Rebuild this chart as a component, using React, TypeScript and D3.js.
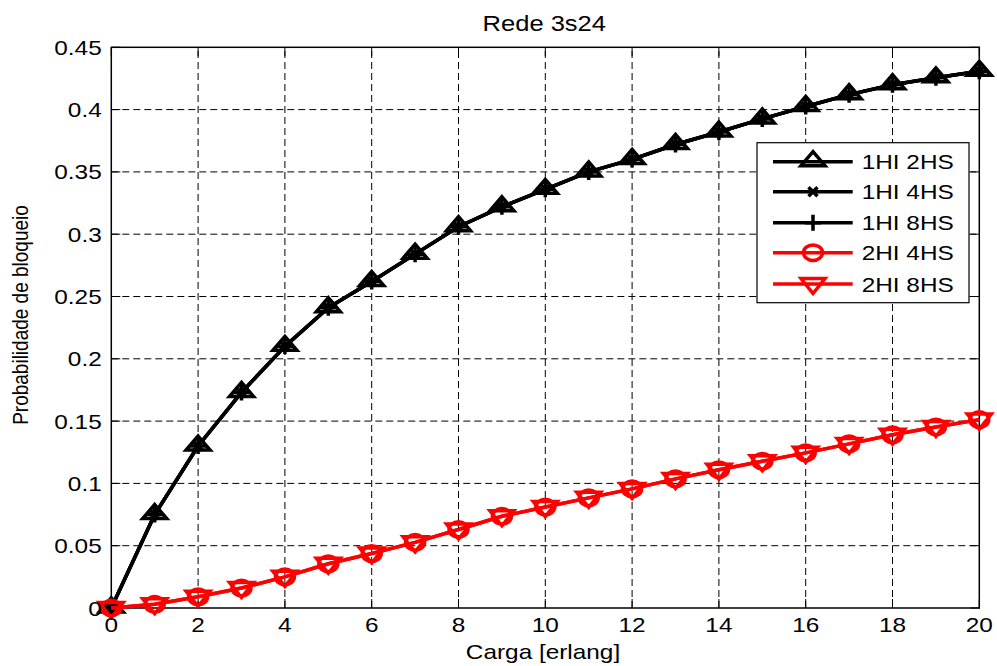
import React from "react";
import * as d3 from "d3";

const loads = [0, 1, 2, 3, 4, 5, 6, 7, 8, 9, 10, 11, 12, 13, 14, 15, 16, 17, 18, 19, 20];
const s1HI2HS = [0, 0.075, 0.130, 0.173, 0.210, 0.241, 0.262, 0.284, 0.306, 0.322, 0.336, 0.350, 0.360, 0.372, 0.382, 0.3925, 0.4025, 0.412, 0.420, 0.4255, 0.4307];
const s1HI4HS = [0, 0.075, 0.130, 0.173, 0.210, 0.241, 0.262, 0.284, 0.306, 0.322, 0.336, 0.350, 0.360, 0.372, 0.382, 0.3925, 0.4025, 0.412, 0.420, 0.4255, 0.4307];
const s1HI8HS = [0, 0.075, 0.130, 0.173, 0.210, 0.241, 0.262, 0.284, 0.306, 0.322, 0.336, 0.350, 0.360, 0.372, 0.382, 0.3925, 0.4025, 0.412, 0.420, 0.4255, 0.4307];
const s2HI4HS = [0, 0.003, 0.009, 0.016, 0.025, 0.0355, 0.0437, 0.0527, 0.063, 0.0736, 0.081, 0.0884, 0.0956, 0.1036, 0.111, 0.1178, 0.1245, 0.1317, 0.139, 0.1453, 0.1512];
const s2HI8HS = [0, 0.003, 0.009, 0.016, 0.025, 0.0355, 0.0437, 0.0527, 0.063, 0.0736, 0.081, 0.0884, 0.0956, 0.1036, 0.111, 0.1178, 0.1245, 0.1317, 0.139, 0.1453, 0.1512];
const seriesNames = ["1HI 2HS", "1HI 4HS", "1HI 8HS", "2HI 4HS", "2HI 8HS"];
const xTicks = [0, 2, 4, 6, 8, 10, 12, 14, 16, 18, 20];
const yTicks = [0, 0.05, 0.1, 0.15, 0.2, 0.25, 0.3, 0.35, 0.4, 0.45];
const yTickLabels = ["0", "0.05", "0.1", "0.15", "0.2", "0.25", "0.3", "0.35", "0.4", "0.45"];

const W = 997, H = 666;
const L = 111.3, R = 979.3, T = 47.3, B = 608;
const FONT = "'Liberation Sans', Arial, Helvetica, sans-serif";
const SX = 1.16;
const LW = 3.5;

type MarkerKind = "tri" | "x" | "plus" | "circle" | "tridown";

function Marker({ kind, cx, cy, color }: { kind: MarkerKind; cx: number; cy: number; color: string }) {
  const common = { fill: "none", stroke: color, strokeWidth: LW, strokeLinejoin: "miter" as const };
  if (kind === "tri") return <path d={`M${cx},${cy - 10}L${cx + 12},${cy + 4}L${cx - 12},${cy + 4}Z`} {...common} />;
  if (kind === "tridown") return <path d={`M${cx - 12},${cy - 5.5}L${cx + 12},${cy - 5.5}L${cx},${cy + 9.5}Z`} {...common} />;
  if (kind === "circle") return <ellipse cx={cx} cy={cy} rx={9.5} ry={7.8} {...common} />;
  if (kind === "x") return <path d={`M${cx - 4.5},${cy - 4.5}L${cx + 4.5},${cy + 4.5}M${cx - 4.5},${cy + 4.5}L${cx + 4.5},${cy - 4.5}`} {...common} />;
  return <path d={`M${cx - 8},${cy}L${cx + 8},${cy}M${cx},${cy - 8}L${cx},${cy + 8}`} {...common} />;
}

function Txt({ x, y, anchor = "start", size, children, rotate = false }: any) {
  const tf = rotate ? `translate(${x},${y}) scale(${SX},1) rotate(-90)` : `translate(${x},${y}) scale(${SX},1)`;
  return (
    <text transform={tf} textAnchor={anchor} fontSize={size} fontFamily={FONT} fill="#000">
      {children}
    </text>
  );
}

export default function App() {
  const x = d3.scaleLinear().domain([0, 20]).range([L, R]);
  const y = d3.scaleLinear().domain([0, 0.45]).range([B, T]);
  const line = d3.line<number>().x((_, i) => x(loads[i])).y((d) => y(d));

  const series: { name: string; data: number[]; color: string; marker: MarkerKind }[] = [
    { name: seriesNames[0], data: s1HI2HS, color: "#000", marker: "tri" },
    { name: seriesNames[1], data: s1HI4HS, color: "#000", marker: "x" },
    { name: seriesNames[2], data: s1HI8HS, color: "#000", marker: "plus" },
    { name: seriesNames[3], data: s2HI4HS, color: "#ff0000", marker: "circle" },
    { name: seriesNames[4], data: s2HI8HS, color: "#ff0000", marker: "tridown" },
  ];

  const legX = 757, legY = 142.7, legW = 212, legH = 160;
  const legRows = [161.7, 191.7, 222.7, 252.7, 284];

  return (
    <svg width={W} height={H} style={{ position: "absolute", left: 0, top: 0, background: "#fff" }}>
      <rect x={0} y={0} width={W} height={H} fill="#fff" />
      <g stroke="#000" strokeWidth={1} strokeDasharray="7,4">
        {xTicks.slice(1, -1).map((t) => (
          <line key={"gx" + t} x1={x(t)} x2={x(t)} y1={B} y2={T} />
        ))}
        {yTicks.slice(1, -1).map((t) => (
          <line key={"gy" + t} x1={L} x2={R} y1={y(t)} y2={y(t)} />
        ))}
      </g>
      <g stroke="#000" strokeWidth={1}>
        {xTicks.map((t) => (
          <g key={"tx" + t}>
            <line x1={x(t)} x2={x(t)} y1={B} y2={B - 9} />
            <line x1={x(t)} x2={x(t)} y1={T} y2={T + 9} />
          </g>
        ))}
        {yTicks.map((t) => (
          <g key={"ty" + t}>
            <line x1={L} x2={L + 9} y1={y(t)} y2={y(t)} />
            <line x1={R} x2={R - 9} y1={y(t)} y2={y(t)} />
          </g>
        ))}
      </g>
      <rect x={L} y={T} width={R - L} height={B - T} fill="none" stroke="#000" strokeWidth={1.5} />
      {series.map((s) => (
        <g key={s.name}>
          <path d={line(s.data) || ""} fill="none" stroke={s.color} strokeWidth={LW} strokeLinejoin="round" />
          {s.data.map((v, i) => (
            <Marker key={i} kind={s.marker} cx={x(loads[i])} cy={y(v)} color={s.color} />
          ))}
        </g>
      ))}
      {xTicks.map((t) => (
        <Txt key={"lx" + t} x={x(t)} y={632} anchor="middle" size={21}>
          {String(t)}
        </Txt>
      ))}
      {yTicks.map((t, i) => (
        <Txt key={"ly" + t} x={101.7} y={y(t) + 7.5} anchor="end" size={21}>
          {yTickLabels[i]}
        </Txt>
      ))}
      <Txt x={544.3} y={30.5} anchor="middle" size={22}>Rede 3s24</Txt>
      <Txt x={543} y={659} anchor="middle" size={21}>Carga [erlang]</Txt>
      <Txt x={28.3} y={315} anchor="middle" size={19} rotate>Probabilidade de bloqueio</Txt>
      <rect x={legX} y={legY} width={legW} height={legH} fill="#fff" stroke="#000" strokeWidth={1.2} />
      {series.map((s, i) => (
        <g key={"leg" + s.name}>
          <line x1={773} x2={852.7} y1={legRows[i]} y2={legRows[i]} stroke={s.color} strokeWidth={LW} />
          <Marker kind={s.marker} cx={813} cy={legRows[i]} color={s.color} />
          <Txt x={861.7} y={legRows[i] + 7.5} size={21}>{s.name}</Txt>
        </g>
      ))}
    </svg>
  );
}
